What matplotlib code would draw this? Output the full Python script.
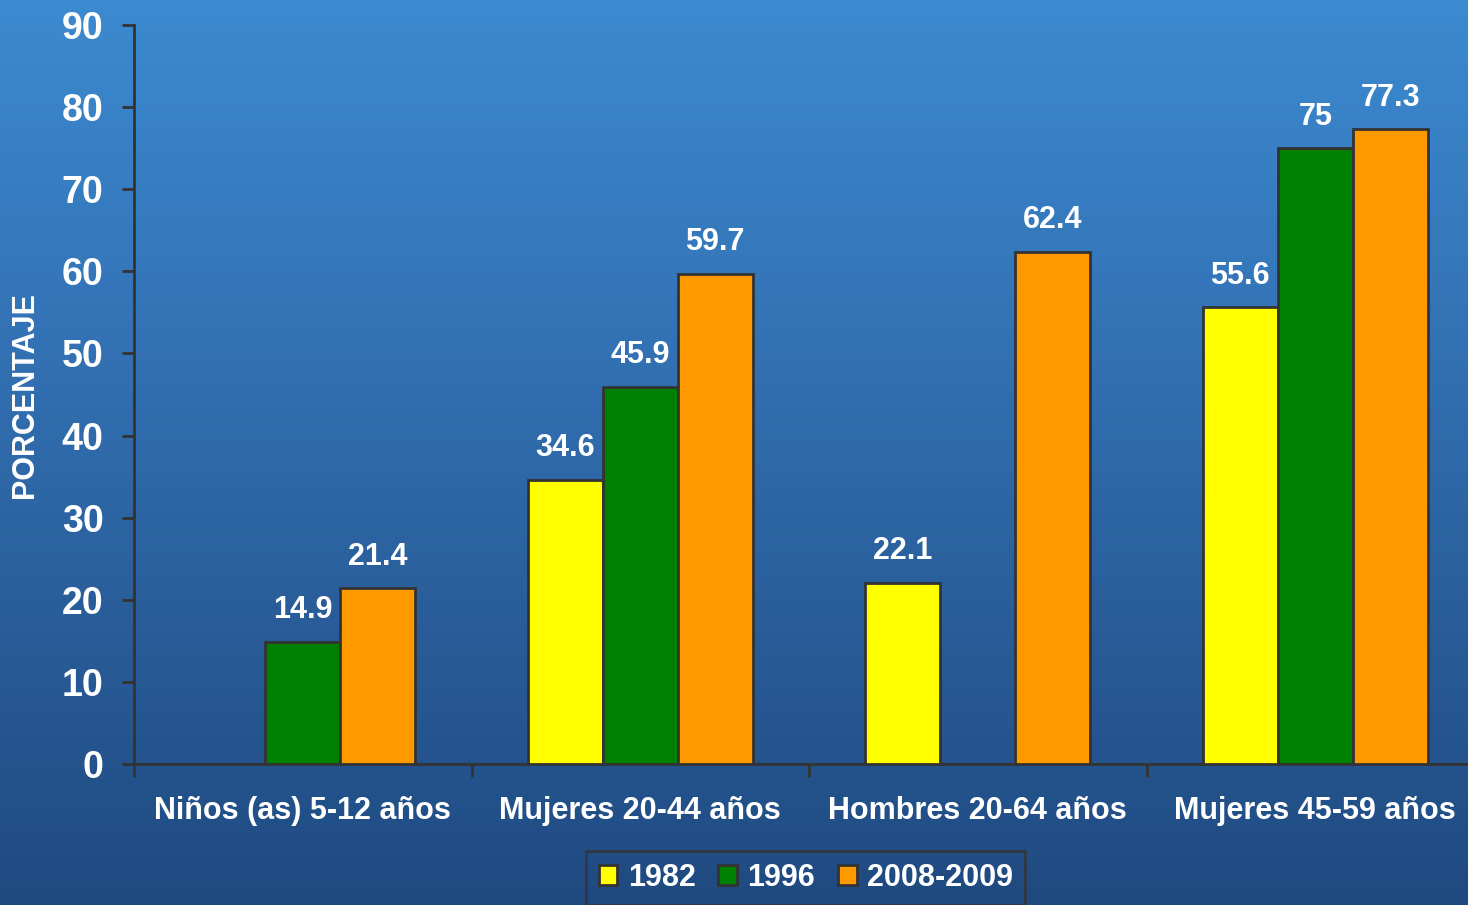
import numpy as np
import matplotlib.pyplot as plt
from matplotlib.colors import LinearSegmentedColormap

plt.rcParams['font.family'] = ['Liberation Sans', 'DejaVu Sans']
plt.rcParams['font.weight'] = 'bold'

categories = ['Niños (as) 5-12 años', 'Mujeres 20-44 años', 'Hombres 20-64 años', 'Mujeres 45-59 años']
series_names = ['1982', '1996', '2008-2009']
values_1982 = [None, 34.6, 22.1, 55.6]
values_1996 = [14.9, 45.9, None, 75]
values_2008 = [21.4, 59.7, 62.4, 77.3]
yticks = list(range(0, 91, 10))

colors = ['#ffff00', '#008000', '#ff9900']
edge = '#333333'


def fmt(v):
    return str(int(v)) if float(v).is_integer() else str(v)


fig = plt.figure(figsize=(14.68, 9.05), dpi=100)

# background gradient
bg = fig.add_axes([0, 0, 1, 1], zorder=-10)
cmap = LinearSegmentedColormap.from_list('bg', ['#3c8ad0', '#3475b8', '#2a5e9b', '#1f4a80'])
bg.imshow(np.linspace(0, 1, 256).reshape(-1, 1), aspect='auto', cmap=cmap, extent=[0, 1, 0, 1])
bg.axis('off')

ax = fig.add_axes([134 / 1468, (905 - 764) / 905, 1350 / 1468, 739 / 905])
ax.set_facecolor('none')

width = 0.222
x = np.arange(len(categories)) + 0.5
for i, (vals, name) in enumerate(zip([values_1982, values_1996, values_2008], series_names)):
    pos = [xx + (i - 1) * width for xx, v in zip(x, vals) if v is not None]
    h = [v for v in vals if v is not None]
    bars = ax.bar(pos, h, width, color=colors[i], edgecolor=edge, linewidth=2, label=name, zorder=3)
    for b, v in zip(bars, h):
        ax.annotate(fmt(v), (b.get_x() + b.get_width() / 2, v), xytext=(0, 12), textcoords='offset points',
                    ha='center', va='bottom', color='white', fontsize=22, fontweight='bold')

ax.set_xlim(0, 4)
ax.set_ylim(0, 90)
ax.set_yticks(yticks)
ax.set_yticklabels([str(t) for t in yticks], color='white', fontsize=27, fontweight='bold')
ax.set_xticks(range(0, 5))
ax.set_xticklabels([])
ax.set_xticks(x, minor=True)
ax.set_xticklabels(categories, minor=True, color='white', fontsize=22, fontweight='bold')
ax.tick_params(axis='x', which='minor', length=0, pad=23)
ax.tick_params(axis='x', which='major', length=9, width=2, color=edge)
ax.tick_params(axis='y', length=9, width=2, color=edge, pad=13)
for s in ['top', 'right']:
    ax.spines[s].set_visible(False)
for s in ['left', 'bottom']:
    ax.spines[s].set_color(edge)
    ax.spines[s].set_linewidth(2)
ax.set_ylabel('PORCENTAJE', color='white', fontsize=22, fontweight='bold', va='center')
ax.yaxis.set_label_coords(-0.0805, 0.5)

leg = fig.legend(loc='upper center', bbox_to_anchor=(0.549, 0.06), ncol=3, frameon=True, fancybox=False,
                 fontsize=22, handlelength=0.6, handleheight=0.6, handletextpad=0.35, columnspacing=0.75,
                 borderpad=0.4, borderaxespad=0)
leg.get_frame().set_facecolor('none')
leg.get_frame().set_edgecolor(edge)
leg.get_frame().set_linewidth(2)
for t in leg.get_texts():
    t.set_color('white')

plt.savefig('out.png', dpi=100)
